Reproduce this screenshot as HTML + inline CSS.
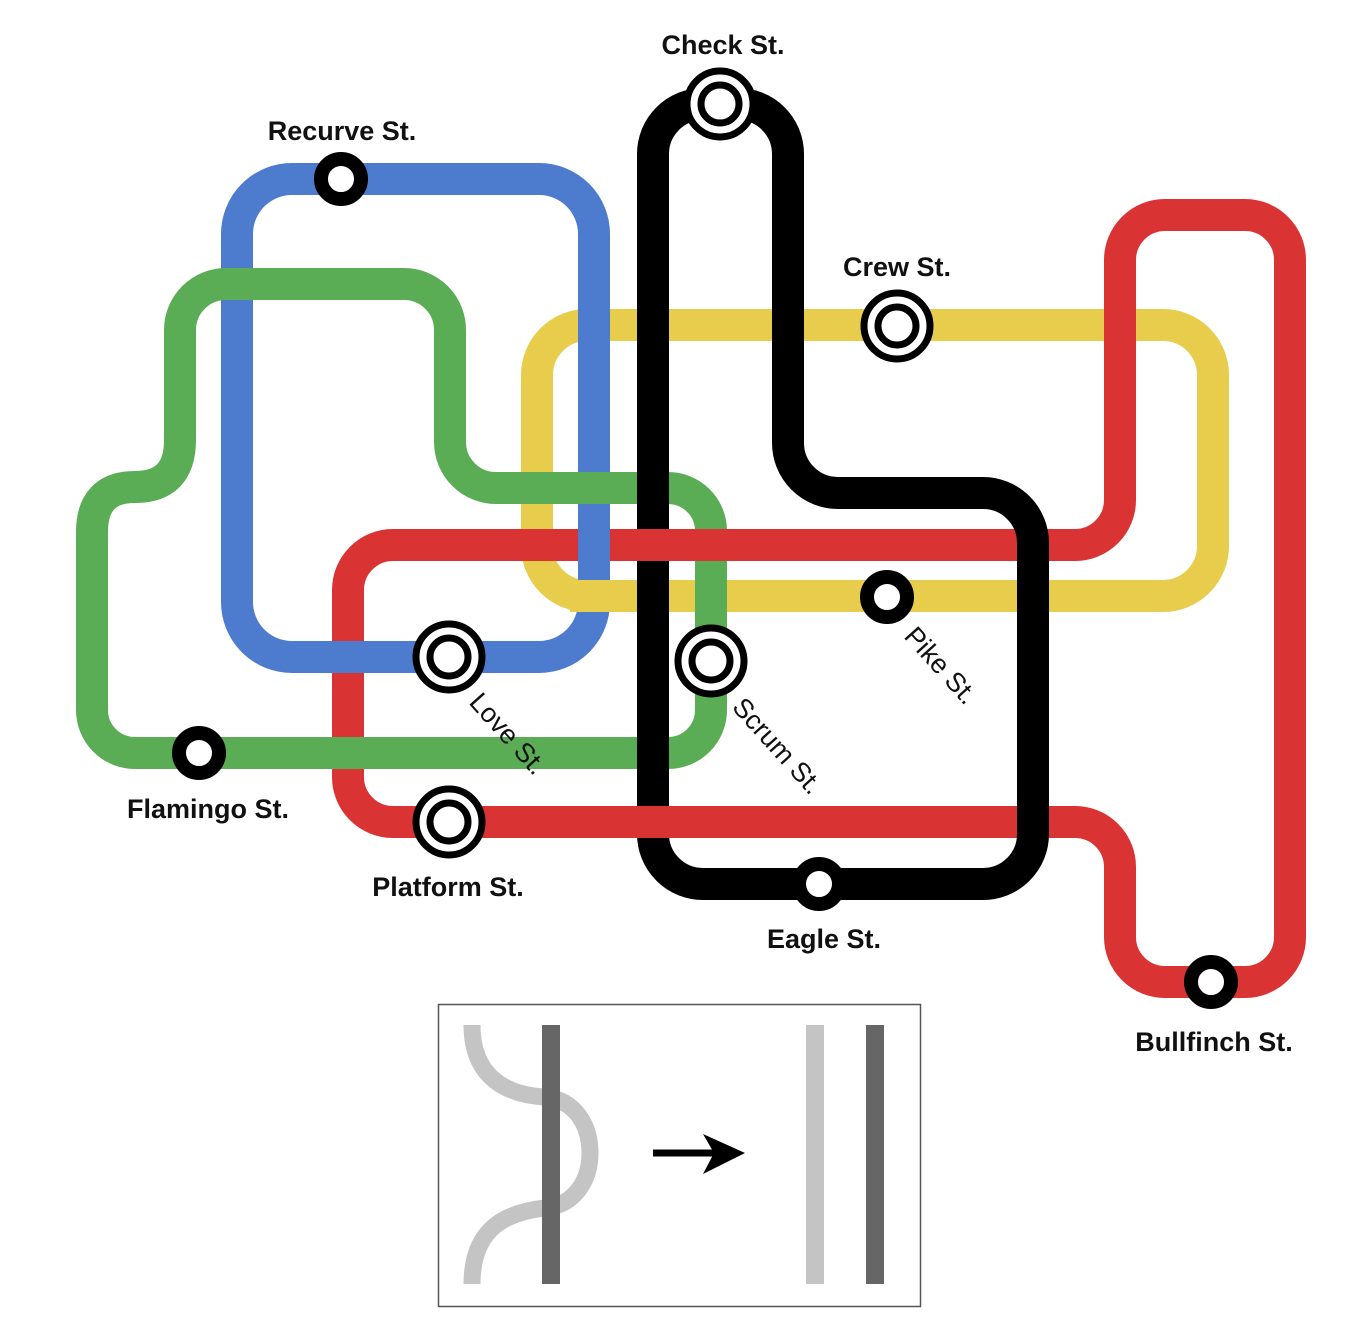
<!DOCTYPE html>
<html><head><meta charset="utf-8"><style>
html,body{margin:0;padding:0;background:#fff;}
svg{display:block;}
text{font-family:"Liberation Sans",sans-serif;fill:#111;}
.lb{font-size:27px;font-weight:bold;text-anchor:middle;}
.lr{font-size:27px;}
</style></head><body>
<svg width="1362" height="1329" viewBox="0 0 1362 1329" xmlns="http://www.w3.org/2000/svg">
<g fill="none" stroke-width="32">
<rect x="537" y="325" width="676" height="271" rx="50" stroke="#e8cc4b"/>
<path d="M348,775 V590 A45 45 0 0 1 393,545 H1075 A45 45 0 0 0 1120,500 V260 A45 45 0 0 1 1165,215 H1245 A45 45 0 0 1 1290,260 V937 A45 45 0 0 1 1245,982 H1165 A45 45 0 0 1 1120,937 V867 A45 45 0 0 0 1075,822 H393 A45 45 0 0 1 348,777 Z" stroke="#da3333"/>
<rect x="237" y="179" width="357" height="478" rx="55" stroke="#4d7bce"/>
<path d="M570,596 H625" stroke="#e8cc4b"/>
<path d="M92,532 V710 A43 43 0 0 0 135,753 H668 A43 43 0 0 0 711,710 V531 A43 43 0 0 0 668,488 H496 A46 46 0 0 1 450,442 V330 A46 46 0 0 0 404,284 H226 A46 46 0 0 0 180,330 V440 Q180,487 135,487 Q92,487 92,532 Z" stroke="#5bad55"/>
<path d="M653,834 V154 A50 50 0 0 1 703,104 H738 A50 50 0 0 1 788,154 V443 A50 50 0 0 0 838,493 H983 A50 50 0 0 1 1033,543 V834 A50 50 0 0 1 983,884 H703 A50 50 0 0 1 653,834 Z" stroke="#000"/>
<path d="M628,545 H738 M628,822 H680" stroke="#da3333"/>
</g>
<g fill="#fff" stroke="#000" stroke-width="14">
<circle cx="341" cy="179" r="20"/>
<circle cx="887" cy="597" r="20"/>
<circle cx="199" cy="753" r="20"/>
<circle cx="819" cy="884" r="20"/>
<circle cx="1211" cy="982" r="20"/>
</g>
<g fill="#fff" stroke="#000" stroke-width="7">
<circle cx="720" cy="104" r="33"/><circle cx="720" cy="104" r="19"/>
<circle cx="897" cy="326" r="33"/><circle cx="897" cy="326" r="19"/>
<circle cx="449" cy="657" r="33"/><circle cx="449" cy="657" r="19"/>
<circle cx="711" cy="661" r="33"/><circle cx="711" cy="661" r="19"/>
<circle cx="449" cy="822" r="33"/><circle cx="449" cy="822" r="19"/>
</g>
<text class="lb" x="723" y="54">Check St.</text>
<text class="lb" x="342" y="140">Recurve St.</text>
<text class="lb" x="897" y="276">Crew St.</text>
<text class="lb" x="208" y="818">Flamingo St.</text>
<text class="lb" x="448" y="896">Platform St.</text>
<text class="lb" x="824" y="948">Eagle St.</text>
<text class="lb" x="1214" y="1051">Bullfinch St.</text>
<text class="lr" x="468" y="703" transform="rotate(48 468 703)">Love St.</text>
<text class="lr" x="731" y="708" transform="rotate(48 731 708)">Scrum St.</text>
<text class="lr" x="903" y="637" transform="rotate(48 903 637)">Pike St.</text>
<rect x="438.5" y="1004.5" width="482" height="302" fill="none" stroke="#555" stroke-width="1.5"/>
<path d="M472,1025 C472,1080 510,1095 545,1097 C575,1100 590,1125 590,1153 C590,1180 575,1205 545,1208 C510,1212 472,1225 472,1284" fill="none" stroke="#c4c4c4" stroke-width="17"/>
<rect x="542" y="1025" width="18" height="259" fill="#666"/>
<rect x="806" y="1025" width="18" height="259" fill="#c4c4c4"/>
<rect x="866" y="1025" width="18" height="259" fill="#666"/>
<path d="M653,1153 H720" stroke="#000" stroke-width="7"/>
<polygon points="745,1153 703,1134 714,1153 703,1174" fill="#000"/>
</svg>
</body></html>
